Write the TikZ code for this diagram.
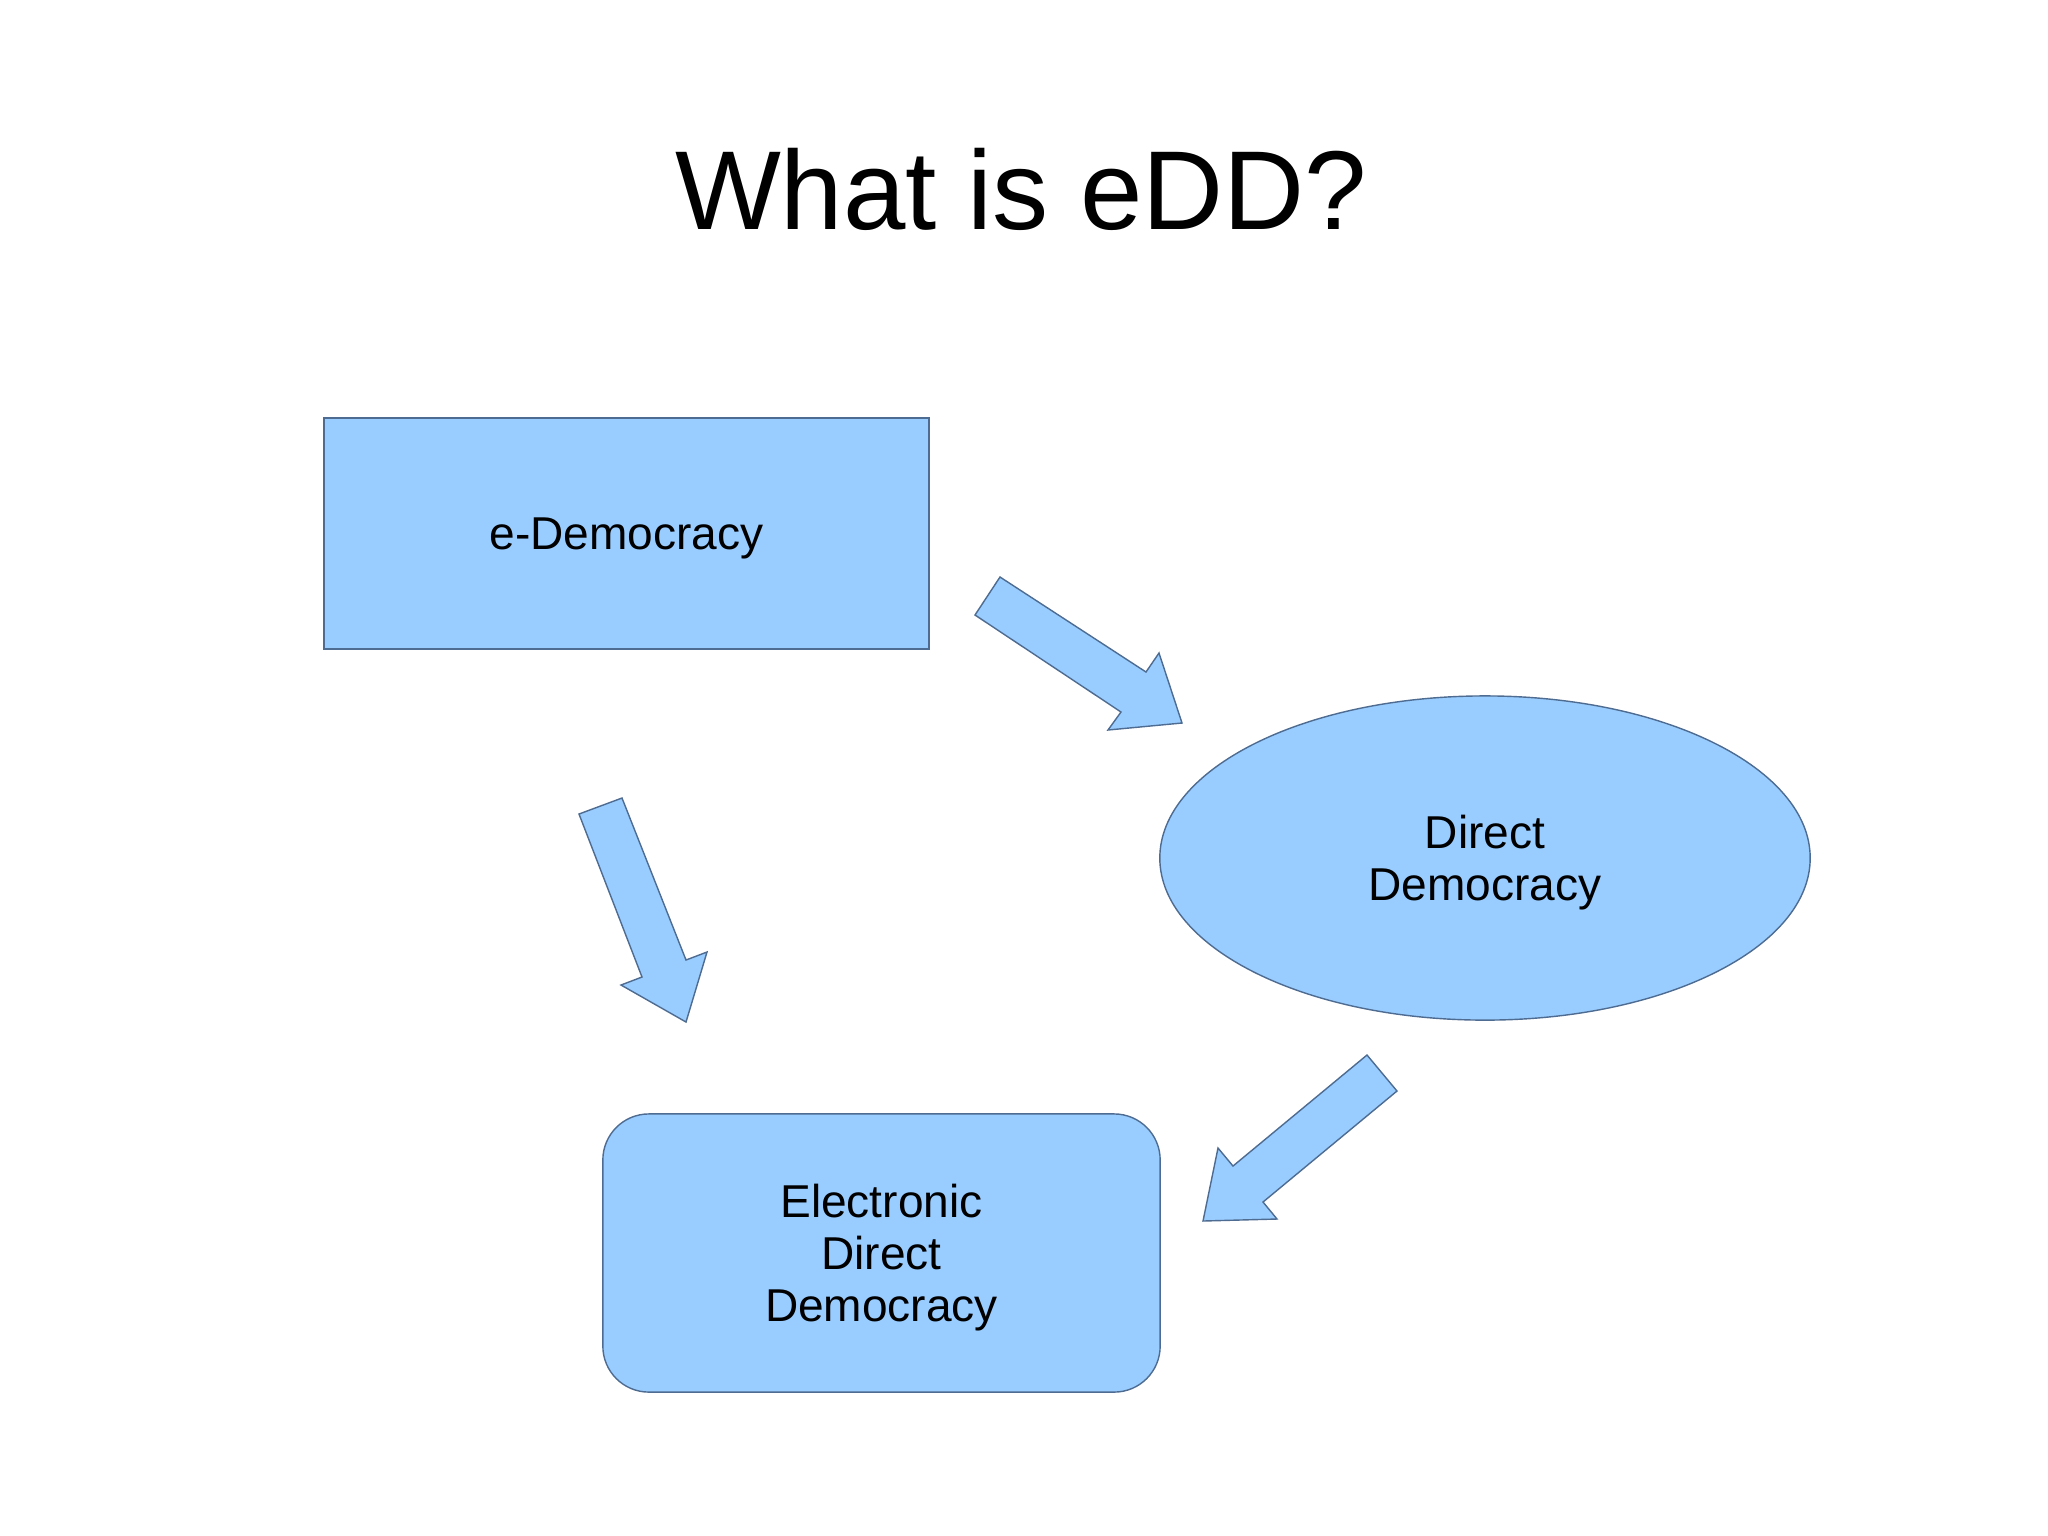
\documentclass[tikz,border=0pt]{standalone}
\usepackage{fontspec}
\setmainfont{Liberation Sans}
\usepackage{tikz}
\usetikzlibrary{shapes.geometric}
\definecolor{boxfill}{HTML}{99CCFF}
\definecolor{boxline}{RGB}{78,108,145}
\begin{document}
\begin{tikzpicture}[x=0.01cm,y=-0.01cm]
\tikzstyle{every node}=[inner sep=0pt,align=center,font=\fontsize{13.1}{14.8}\selectfont];
\tikzstyle{shape box}=[draw=boxline,fill=boxfill,line width=0.4pt];
\tikzstyle{block arrow}=[draw=boxline,fill=boxfill,line width=0.4pt,line join=miter];
\useasboundingbox (0,0) rectangle (2048,1535);
% title
    \node[anchor=base,font=\fontsize{31.9}{38}\selectfont] (title) at (1021,229) {What is eDD?};
% shapes
    \node[shape box,rectangle,minimum width=6.05cm,minimum height=2.31cm,
          label={[yshift=-0.05cm]center:e-Democracy}] (edem) at (626.5,533.5) {};
    \node[shape box,ellipse,minimum width=6.5cm,minimum height=3.24cm,
          label={[yshift=-0.05cm]center:Direct\\Democracy}] (direct) at (1485,858) {};
    \node[shape box,rectangle,rounded corners=0.46cm,minimum width=5.57cm,minimum height=2.78cm,
          label={[yshift=-0.05cm]center:Electronic\\Direct\\Democracy}] (edd) at (881.5,1253) {};
% block arrows
    \filldraw[block arrow] (1000,577) -- (1146,672) -- (1159,653) -- (1182,723) -- (1108,730) -- (1121,712) -- (975,615) -- cycle;
    \filldraw[block arrow] (622,798) -- (686,960) -- (707,952) -- (686,1022) -- (621,985) -- (642,977) -- (579,814) -- cycle;
    \filldraw[block arrow] (1367,1055) -- (1397,1091) -- (1263,1202) -- (1277,1219) -- (1203,1221) -- (1218,1148) -- (1233,1166) -- cycle;
\end{tikzpicture}
\end{document}
